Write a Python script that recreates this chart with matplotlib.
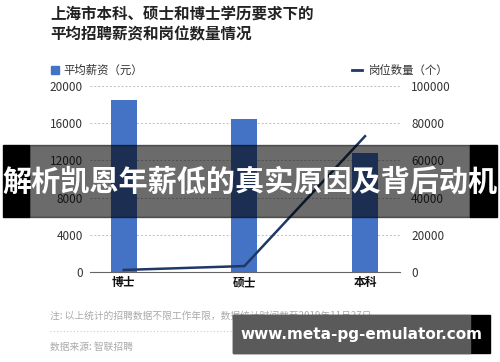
"""Recreate the Shanghai salary / job-count chart with the overlay banners."""

import matplotlib

matplotlib.use("Agg")
import matplotlib.pyplot as plt
from matplotlib.patches import Rectangle

plt.rcParams["font.family"] = ["Noto Sans CJK SC", "DejaVu Sans"]

categories = ["博士", "硕士", "本科"]
salary = [18500, 16450, 12800]
jobs = [1100, 3200, 73000]
left_ticks = [0, 4000, 8000, 12000, 16000, 20000]
right_ticks = [0, 20000, 40000, 60000, 80000, 100000]

BAR = "#4472c4"
LINE = "#1f3864"
GRID = "#bfbfbf"
TXT = "#333333"

W, H = 500, 362
fig = plt.figure(figsize=(W / 100, H / 100), dpi=100)


def fx(px):
    return px / W


def fy(py):
    return 1 - py / H


ax = fig.add_axes([fx(90), fy(272), fx(400) - fx(90), fy(86) - fy(272)])
ax2 = ax.twinx()

x = list(range(len(categories)))
ax.bar(x, salary, width=0.216, color=BAR, zorder=2)
ax2.plot(x, jobs, color=LINE, lw=1.8, zorder=3)

ax.set_xlim(-0.28, 2.29)
ax.set_ylim(0, 20000)
ax2.set_ylim(0, 100000)
ax.set_yticks(left_ticks)
ax2.set_yticks(right_ticks)
ax.set_yticklabels([str(v) for v in left_ticks], fontsize=8.5, color=TXT)
ax2.set_yticklabels([str(v) for v in right_ticks], fontsize=8.5, color=TXT)
ax.set_xticks(x)
ax.set_xticklabels(categories, fontsize=8.5, fontweight="bold", color="#111111")
ax.tick_params(axis="x", length=0, pad=3)
ax.tick_params(axis="y", length=0, pad=5)
ax2.tick_params(axis="y", length=0, pad=8)
for a in (ax, ax2):
    for s in a.spines.values():
        s.set_visible(False)
ax.spines["bottom"].set_visible(True)
ax.spines["bottom"].set_color("#666666")
ax.grid(axis="y", color=GRID, ls=(0, (2, 2)), lw=0.7, zorder=0)
ax.set_axisbelow(True)
ax2.set_zorder(ax.get_zorder() + 1)
ax2.patch.set_visible(False)

# title and legend row
fig.text(fx(50), fy(14), "上海市本科、硕士和博士学历要求下的", fontsize=11.2,
         fontweight="bold", color="#222222", va="center")
fig.text(fx(50), fy(34), "平均招聘薪资和岗位数量情况", fontsize=11.2,
         fontweight="bold", color="#222222", va="center")
fig.patches.append(Rectangle((fx(51), fy(74)), fx(8), fy(66) - fy(74),
                             transform=fig.transFigure, color=BAR))
fig.text(fx(63), fy(70), "平均薪资（元）", fontsize=8.2, color=TXT, va="center")
fig.text(fx(448), fy(70), "岗位数量（个）", fontsize=8.2, color=TXT,
         va="center", ha="right")
fig.lines.append(plt.Line2D([fx(352), fx(362)], [fy(70), fy(70)],
                            transform=fig.transFigure, color=LINE, lw=2))

# footer
fig.text(fx(50), fy(316), "注: 以上统计的招聘数据不限工作年限，数据统计时间截至2019年11月27日。",
         fontsize=7, color="#aaaaaa", va="center")
fig.lines.append(plt.Line2D([fx(50), fx(450)], [fy(331), fy(331)],
                            transform=fig.transFigure, color="#cccccc",
                            lw=0.8, ls=(0, (1, 2))))
fig.text(fx(50), fy(347), "数据来源: 智联招聘", fontsize=7, color="#aaaaaa", va="center")

# overlay banner: black edges, translucent dark band in the middle
fig.patches.append(Rectangle((fx(3), fy(217)), fx(29) - fx(3), fy(145) - fy(217),
                             transform=fig.transFigure, color="black", zorder=10))
fig.patches.append(Rectangle((fx(470), fy(217)), fx(497) - fx(470), fy(145) - fy(217),
                             transform=fig.transFigure, color="black", zorder=10))
fig.patches.append(Rectangle((fx(29), fy(217)), fx(470) - fx(29), fy(145) - fy(217),
                             transform=fig.transFigure, color="black",
                             alpha=0.58, zorder=10))
fig.text(0.5, fy(182), "解析凯恩年薪低的真实原因及背后动机", fontsize=21,
         fontweight="bold", color="white", ha="center", va="center", zorder=11)

# site watermark
fig.patches.append(Rectangle((fx(233), fy(353)), fx(490) - fx(233), fy(315) - fy(353),
                             transform=fig.transFigure, color="black", zorder=10))
fig.patches.append(Rectangle((fx(233), fy(353)), fx(470) - fx(233), fy(315) - fy(353),
                             transform=fig.transFigure, color="#5a5a5a", zorder=10))
fig.text(fx(361), fy(335), "www.meta-pg-emulator.com", fontsize=11,
         fontweight="bold", family="DejaVu Sans", color="white",
         ha="center", va="center", zorder=11)

fig.savefig("out.png", dpi=100)
